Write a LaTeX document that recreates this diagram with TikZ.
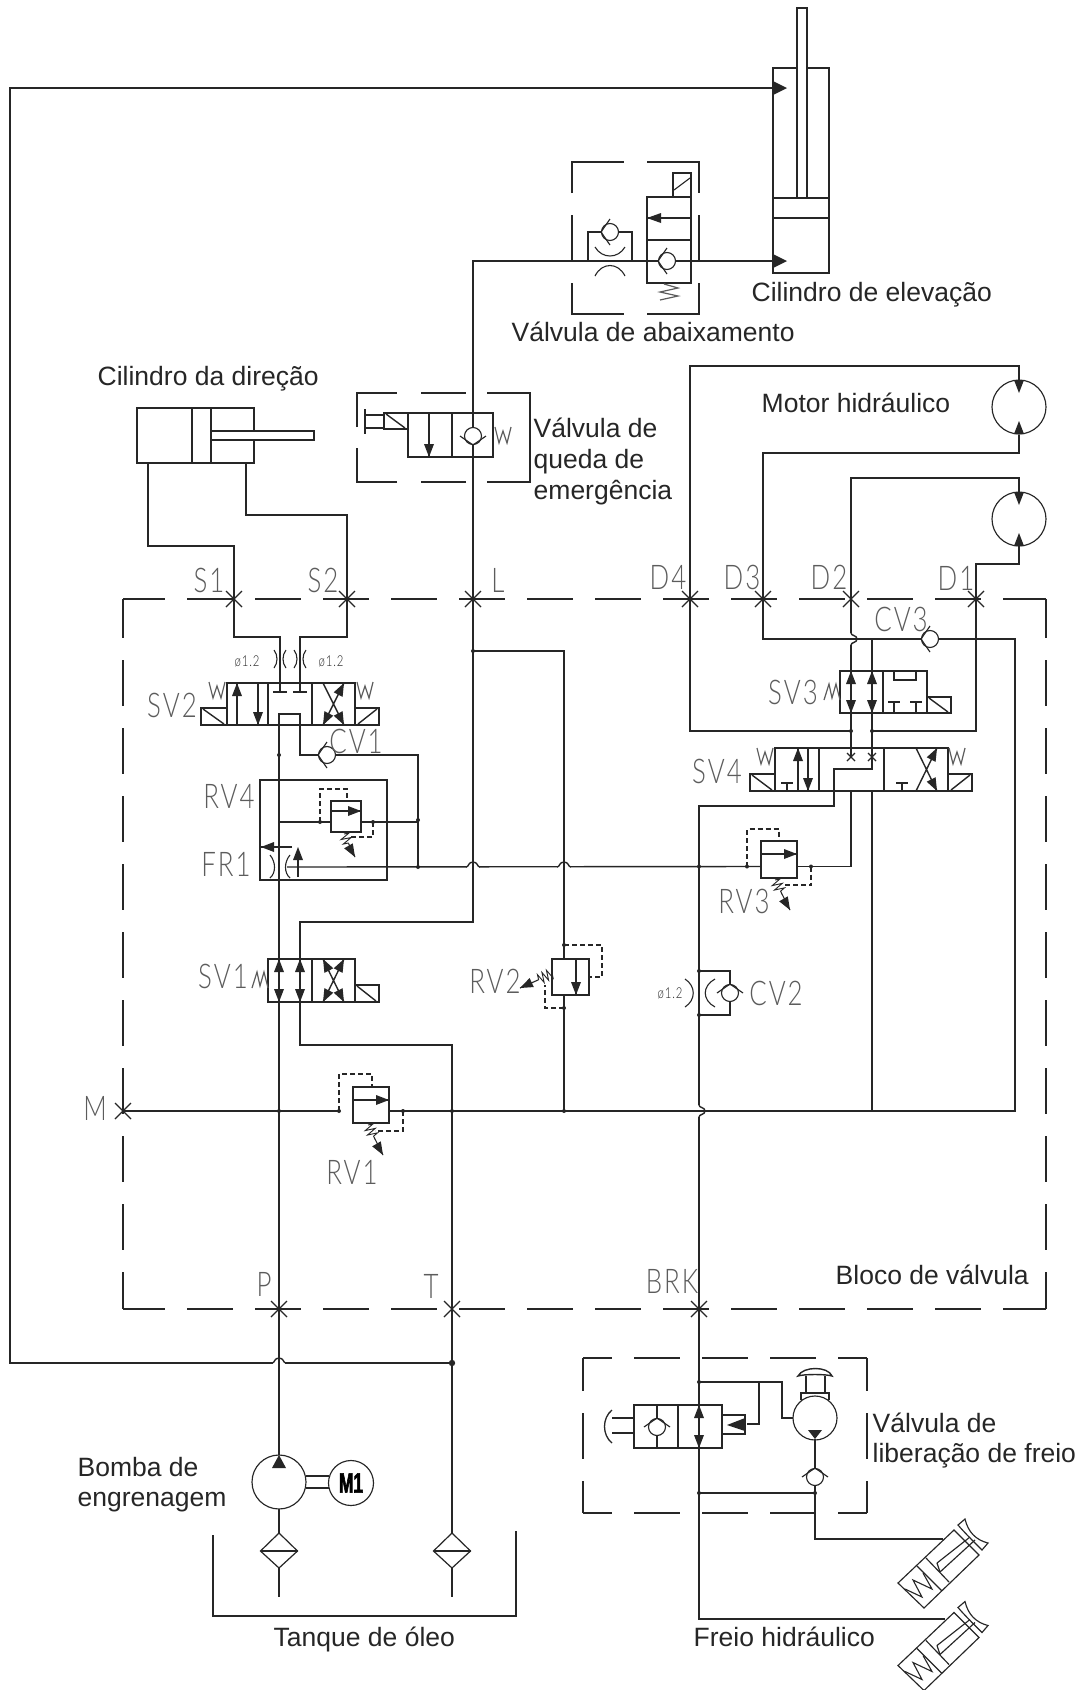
\documentclass[tikz,border=0pt]{standalone}
\usepackage{fontspec}
\usepackage{graphicx}
\usetikzlibrary{arrows.meta,decorations.pathmorphing,calc}
\setmainfont{Liberation Sans}
\newfontfamily\arialfont{Liberation Sans}
\newfontfamily\cadfont[FakeStretch=0.76,LetterSpace=6]{Lato Light}
\newfontfamily\mfont[FakeStretch=0.62,BoldFeatures={FakeBold=2}]{Liberation Sans}
\definecolor{ink}{HTML}{262626}
\definecolor{cadgray}{HTML}{5C5C5C}
\newcommand{\tr}[4]{\fill[ink] (#1,#2) -- ({#1-(#3)*13+(#4)*5},{#2-(#4)*13-(#3)*5}) -- ({#1-(#3)*13-(#4)*5},{#2-(#4)*13+(#3)*5}) -- cycle;}
\newcommand{\trr}[6]{\fill[ink] (#1,#2) -- ({#1-(#3)*#5+(#4)*#6},{#2-(#4)*#5-(#3)*#6}) -- ({#1-(#3)*#5-(#4)*#6},{#2-(#4)*#5+(#3)*#6}) -- cycle;}
\newcommand{\chk}[4]{\draw[fill=white,line width=1.15pt] (#1,#2) circle (8.5);
  \draw[line width=1.15pt] ({#1-(#4)*13},{#2+(#3)*13}) -- ({#1+(#3)*9},{#2+(#4)*9}) -- ({#1+(#4)*13},{#2-(#3)*13});}
\newcommand{\wsym}[2]{\draw[sp] (#1-8,#2-8) -- (#1-4,#2+8) -- (#1,#2-4) -- (#1+4,#2+8) -- (#1+8,#2-8);}
\newcommand{\msym}[2]{\draw[sp] (#1-8,#2+8) -- (#1-3,#2-8) -- (#1,#2+6) -- (#1+4,#2-8) -- (#1+8,#2+8);}
\newcommand{\cross}[1]{\draw[thinp] ($(#1)+(-8,-8)$) -- ($(#1)+(8,8)$); \draw[thinp] ($(#1)+(-8,8)$) -- ($(#1)+(8,-8)$);}
\newcommand{\dotp}[2]{\fill[ink] (#1,#2) circle (2);}
\newcommand{\hump}[2]{\draw[white,line width=3pt] (#1-6,#2) -- (#1+6,#2); \draw (#1,#2-5) -- (#1,#2+5);
  \draw (#1-7,#2) .. controls (#1-4,#2) and (#1-5,#2-5) .. (#1,#2-5) .. controls (#1+5,#2-5) and (#1+4,#2) .. (#1+7,#2);}
\newcommand{\vhump}[2]{\draw[white,line width=3pt] (#1,#2-6) -- (#1,#2+6); \draw (#1-2,#2) -- (#1+7,#2);
  \draw (#1,#2-6) .. controls (#1,#2-3) and (#1+6,#2-4) .. (#1+6,#2) .. controls (#1+6,#2+4) and (#1,#2+3) .. (#1,#2+6);}
\newcommand{\relief}[9]{% x0 y0 x1 y1 (rect), ay (inner), sx sy ex ey (spring)
  \draw[fill=white] (#1,#2) rectangle (#3,#4);
  \draw (#1,#5) -- (#3,#5); \tr{#3}{#5}{1}{0}
  \draw[springz] (#6,#7) -- ($(#6,#7)!0.42!(#8,#9)$);
  \draw[line width=1.1pt] ($(#6,#7)!0.42!(#8,#9)$) -- (#8,#9);}
\newcommand{\solL}[4]{\draw (#1,#2) rectangle (#3,#4); \draw ({#1+2},{#2+1}) -- ({#3-3},{#4-1});}
\newcommand{\solR}[4]{\draw (#1,#2) rectangle (#3,#4); \draw ({#1+3},{#4-1}) -- ({#3-2},{#2+1});}
\tikzset{
  every path/.append style={line width=1.4pt},
  sp/.style={draw=cadgray,line width=1.2pt},
  thinp/.style={draw=ink,line width=1.1pt},
  dsh/.style={draw=ink,line width=1.3pt},
  pil/.style={draw=ink,line width=1.2pt,dash pattern=on 5pt off 3pt},
  arc1/.style={draw=ink,line width=1.1pt},
  springz/.style={draw=ink,line width=0.9pt,decorate,decoration={zigzag,segment length=5pt,amplitude=5pt,post length=0.1pt}},
  txt/.style={anchor=base west,text=ink,inner sep=0pt,font=\arialfont\fontsize{26.5}{31}\selectfont},
  cad/.style={text=cadgray,inner sep=0pt,font=\cadfont\fontsize{34}{34}\selectfont},
  cads/.style={text=ink,inner sep=0pt,font=\cadfont\fontsize{15}{15}\selectfont}
}
\begin{document}
\begin{tikzpicture}[x=1pt,y=-1pt,draw=ink]
\useasboundingbox[fill=white] (0,0) rectangle (1080,1690);

% ports
\coordinate (S1) at (234,599); \coordinate (S2) at (347,599); \coordinate (L) at (473,599);
\coordinate (D4) at (690,599); \coordinate (D3) at (763,599); \coordinate (D2) at (851,599);
\coordinate (D1) at (976,599); \coordinate (M) at (123,1111); \coordinate (P) at (279,1309);
\coordinate (T) at (452,1309); \coordinate (BRK) at (699,1309);

% valve block border
\begin{scope}[dsh,dash pattern=on 46pt off 22pt]
  \draw[dash phase=4pt] (123,599) -- (1046,599);
  \draw[dash phase=4pt] (123,1309) -- (1046,1309);
  \draw[dash phase=7pt] (123,599) -- (123,1309);
  \draw[dash phase=7pt] (1046,599) -- (1046,1309);
\end{scope}

% lift cylinder
\draw (773,68) rectangle (829,273);
\draw[fill=white] (797,8) rectangle (807,198);
\draw (773,198) -- (829,198) (773,218) -- (829,218);
\draw (452,1363) -- (10,1363) -- (10,88) -- (773,88);
\trr{787}{88}{1}{0}{14}{7}
\trr{787}{261}{1}{0}{14}{7}

% pressure line to lift
\draw (452,1533) -- (T) -- (452,1045) -- (300,1045) -- (300,922) -- (473,922) -- (L) -- (473,261) -- (773,261);

% lowering valve
\begin{scope}[dsh]
  \draw (572,193) -- (572,162) -- (624,162) (647,162) -- (699,162) -- (699,193);
  \draw (572,215) -- (572,261) (699,215) -- (699,261);
  \draw (572,283) -- (572,314) -- (624,314) (647,314) -- (699,314) -- (699,283);
\end{scope}
\draw (588,261) -- (588,232) -- (632,232) -- (632,261);
\chk{610}{232}{-1}{0}
\draw[arc1] (595,247) .. controls (602,259) and (618,259) .. (625,247);
\draw[arc1] (595,276) .. controls (602,262) and (618,262) .. (625,276);
\draw (647,197) rectangle (691,283);
\draw (647,240) -- (691,240) (647,218) -- (691,218);
\trr{647}{218}{-1}{0}{14}{5}
\draw (673,197) -- (673,173) -- (691,173) -- (691,197);
\draw[thinp] (674,190) -- (690,178);
\chk{667}{261}{-1}{0}
\draw[sp] (664,284) -- (678,288) -- (660,292) -- (678,296) -- (660,300);

% emergency valve
\begin{scope}[dsh]
  \draw (357,427) -- (357,393) -- (397,393) (421,393) -- (466,393) (487,393) -- (530,393) -- (530,482) -- (487,482) (466,482) -- (421,482) (397,482) -- (357,482) -- (357,448);
\end{scope}
\draw (408,413) rectangle (493,457);
\draw (452,413) -- (452,457) (429,413) -- (429,457);
\tr{429}{457}{0}{1}
\solL{384}{413}{408}{429}
\draw (365,409) -- (365,434) (365,415) -- (384,415) (365,428) -- (384,428);
\chk{473}{436}{0}{1}
\wsym{503}{435}

% steering cylinder
\draw (137,408) rectangle (254,463);
\draw (192,408) -- (192,463) (211,408) -- (211,463);
\draw[fill=white] (211,431) rectangle (314,440);
\draw (148,463) -- (148,546) -- (234,546) -- (S1) -- (234,637) -- (280,637) -- (280,692);
\draw (246,463) -- (246,515) -- (347,515) -- (S2) -- (347,637) -- (300,637) -- (300,692);
\draw (273,692) -- (287,692) (293,692) -- (307,692);
\foreach \xx in {280,300}{
  \draw[arc1] (\xx-6,650) .. controls (\xx-2,655) and (\xx-2,663) .. (\xx-6,668);
  \draw[arc1] (\xx+6,650) .. controls (\xx+2,655) and (\xx+2,663) .. (\xx+6,668);
}
\node[cads] (o1) at (247,661) {ø1.2};
\node[cads] (o2) at (331,661) {ø1.2};

% SV2
\draw (227,683) rectangle (355,725);
\draw (268,683) -- (268,725) (312,683) -- (312,725);
\solL{201}{708}{227}{725} \solR{355}{708}{379}{725}
\draw (237,683) -- (237,725) (258,683) -- (258,725);
\tr{237}{683}{0}{-1} \tr{258}{725}{0}{1}
\draw (323,683) -- (344,725) (344,683) -- (323,725);
\trr{344}{683}{0.45}{-0.89}{13}{5} \trr{323}{725}{-0.45}{0.89}{13}{5} \trr{344}{725}{0.45}{0.89}{13}{5}
\wsym{217}{690} \wsym{365}{690}
\draw (279,1455) -- (279,714) -- (300,714) -- (300,755) -- (418,755) -- (418,867);
\chk{327}{755}{-1}{0}
\dotp{279}{755} \dotp{418}{820} \dotp{418}{867}

% RV4 / FR1
\draw (260,780) rectangle (387,880);
\draw (279,822) -- (331,822) (361,822) -- (418,822);
\relief{331}{801}{361}{832}{811}{344}{834}{355}{857}
\tr{355}{857}{0.5}{0.86}
\draw[pil] (320,822) -- (320,789) -- (347,789) -- (347,801);
\draw[pil] (373,822) -- (373,837) -- (350,837);
\dotp{320}{822} \dotp{373}{822}
\draw (292,847) -- (261,847); \tr{261}{847}{-1}{0}
\draw (298,877) -- (298,860); \tr{298}{847}{0}{-1}
\draw[arc1] (270,855) .. controls (276,862) and (276,873) .. (270,878);
\draw[arc1] (290,855) .. controls (284,862) and (284,873) .. (290,878);
\draw (287,867) -- (761,866.5);

% RV3
\relief{761}{841}{797}{878}{854}{775}{880}{790}{910}
\tr{790}{910}{0.5}{0.86}
\draw[pil] (747,866.5) -- (747,829) -- (779,829) -- (779,841);
\draw[pil] (811,866.5) -- (811,885) -- (782,885);
\dotp{747}{866.5} \dotp{811}{866.5} \dotp{699}{866.5}
\draw (797,866.5) -- (851,866.5) -- (851,791);

% SV1
\draw (268,959) rectangle (355,1002);
\draw (312,959) -- (312,1002);
\solL{355}{985}{379}{1002}
\foreach \xx in {279,300}{ \tr{\xx}{959}{0}{-1} \tr{\xx}{1002}{0}{1} }
\draw (323,959) -- (344,1002) (344,959) -- (323,1002);
\trr{344}{959}{0.45}{-0.89}{13}{5} \trr{323}{959}{-0.45}{-0.89}{13}{5}
\trr{323}{1002}{-0.45}{0.89}{13}{5} \trr{344}{1002}{0.45}{0.89}{13}{5}
\msym{260}{980}

% return line
\draw (M) -- (339,1111) (389,1111) -- (1015,1111) -- (1015,639) -- (763,639) -- (D3) -- (763,453) -- (1019,453) -- (1019,435);
\dotp{279}{1111} \dotp{452}{1111} \dotp{564}{1111}

% RV1
\relief{353}{1087}{389}{1123}{1100}{368}{1125}{383}{1155}
\tr{383}{1155}{0.5}{0.86}
\draw[pil] (339,1111) -- (339,1074) -- (372,1074) -- (372,1087);
\draw[pil] (403,1111) -- (403,1131) -- (375,1131);
\dotp{339}{1111} \dotp{403}{1111}

% RV2 branch
\draw (473,651) -- (564,651) -- (564,1111);
\dotp{473}{651}
\draw[fill=white] (552,959) rectangle (589,995);
\draw (576,959) -- (576,995); \tr{576}{995}{0}{1}
\draw[pil] (564,945) -- (602,945) -- (602,977) -- (589,977);
\draw[pil] (564,1008) -- (545,1008) -- (545,985);
\dotp{564}{945} \dotp{564}{1008}
\draw[springz] (552,973) -- (538,980);
\draw[line width=1.1pt] (538,980) -- (520,988); \tr{520}{988}{-0.9}{0.42}

% motors
\draw[line width=1.15pt] (1019,407) circle (27);
\draw[line width=1.15pt] (1019,519) circle (27);
\tr{1019}{393}{0}{1} \tr{1019}{421}{0}{-1}
\tr{1019}{505}{0}{1} \tr{1019}{533}{0}{-1}
\draw (1019,380) -- (1019,366) -- (690,366) -- (D4) -- (690,731) -- (851,731);
\draw (1019,492) -- (1019,478) -- (851,478) -- (D2) -- (851,757);
\draw (1019,546) -- (1019,564) -- (976,564) -- (D1) -- (976,731) -- (872,731);
\draw (872,639) -- (872,769) -- (834,769) -- (834,806) -- (699,806) -- (BRK) -- (699,1619) -- (945,1619);
\draw (872,791) -- (872,1111);
\dotp{851}{731} \dotp{872}{731}
\vhump{851}{639}
\chk{930}{639}{-1}{0}

% SV3
\draw (840,671) rectangle (927,713);
\draw (883,671) -- (883,713);
\solL{927}{697}{951}{713}
\foreach \xx in {851,872}{ \tr{\xx}{671}{0}{-1} \tr{\xx}{713}{0}{1} }
\draw (894,671) -- (894,680) -- (916,680) -- (916,671);
\draw (894,713) -- (894,702) (888,702) -- (900,702) (916,713) -- (916,702) (910,702) -- (922,702);
\msym{832}{692}

% SV4
\draw (775,748) rectangle (948,791);
\draw (819,748) -- (819,791) (884,748) -- (884,791);
\solL{750}{774}{775}{791} \solR{948}{774}{972}{791}
\draw (798,748) -- (798,791) (808,748) -- (808,791);
\tr{798}{748}{0}{-1} \tr{808}{791}{0}{1}
\draw (787,791) -- (787,783) (781,783) -- (793,783);
\draw (902,791) -- (902,783) (896,783) -- (908,783);
\draw (916,748) -- (937,791) (937,748) -- (916,791);
\trr{937}{748}{0.45}{-0.89}{13}{5} \trr{937}{791}{0.45}{0.89}{13}{5}
\foreach \xx in {851,872}{ \draw[thinp] (\xx-4,753) -- (\xx+4,761) (\xx-4,761) -- (\xx+4,753); }
\wsym{765}{756} \wsym{957}{756}

% CV2
\draw (699,971) -- (730,971) -- (730,1015) -- (699,1015);
\chk{730}{993}{0}{-1}
\dotp{699}{971} \dotp{699}{1015}
\draw[arc1] (685,979) .. controls (696,986) and (696,1000) .. (685,1007);
\draw[arc1] (715,979) .. controls (702,986) and (702,1000) .. (715,1007);
\node[cads] (o3) at (670,993) {ø1.2};

% humps
\hump{473}{867}
\hump{564}{867}
\hump{279}{1363}
\vhump{699}{1111}
\fill[ink] (452,1363) circle (3.2);

% pump, motor, filters, tank
\draw[line width=1.15pt] (279,1482) circle (27);
\trr{279}{1455}{0}{-1}{13}{7}
\draw[line width=1.15pt] (351,1483) circle (22.5);
\draw (306,1476) -- (329,1476) (306,1488) -- (329,1488);
\node[inner sep=0pt,text=black] (m1) at (351,1483) {\mfont\bfseries\fontsize{28}{28}\selectfont M1};
\draw (279,1509) -- (279,1533);
\foreach \xx in {279,452}{
  \draw[line width=1.2pt] (\xx,1533) -- (\xx+18.5,1551) -- (\xx,1568) -- (\xx-18.5,1551) -- cycle;
  \draw[line width=1.2pt] (\xx-18.5,1551) -- (\xx+18.5,1551) (\xx,1568) -- (\xx,1597);
}
\draw (213,1535) -- (213,1616) -- (516,1616) -- (516,1531);

% brake release
\begin{scope}[dsh]
  \draw[dash pattern=on 46pt off 22pt,dash phase=17pt] (583,1358) -- (867,1358);
  \draw[dash pattern=on 46pt off 22pt,dash phase=17pt] (583,1513) -- (867,1513);
  \draw[dash pattern=on 46pt off 22pt,dash phase=13pt] (583,1358) -- (583,1513);
  \draw[dash pattern=on 46pt off 22pt,dash phase=13pt] (867,1358) -- (867,1513);
\end{scope}
\draw (634,1405) rectangle (722,1448);
\draw (678,1405) -- (678,1448);
\tr{699}{1405}{0}{-1} \tr{699}{1448}{0}{1}
\draw (657,1405) -- (657,1448);
\chk{657}{1427}{0}{-1}
\draw (612,1418) -- (634,1418) (612,1433) -- (634,1433);
\draw[line width=1.3pt] (612,1410) .. controls (602,1418) and (602,1435) .. (612,1443);
\draw (722,1415) rectangle (745,1434);
\fill[ink] (727,1425) -- (745,1418) -- (745,1431) -- cycle;
\draw (699,1382) -- (782,1382) -- (782,1418) -- (793,1418);
\draw (759,1382) -- (759,1424) -- (752,1424);
\draw[pil] (752,1424) -- (745,1424);
\dotp{699}{1382}
\draw[line width=1.15pt] (815,1418) circle (22);
\fill[ink] (815,1439) -- (808,1430) -- (822,1430) -- cycle;
\draw (815,1439) -- (815,1539) -- (943,1539);
\chk{815}{1477}{0}{-1}
\draw (699,1493) -- (815,1493);
\dotp{699}{1493} \dotp{815}{1493}
\draw (806,1376) -- (806,1393) (825,1376) -- (825,1393);
\draw (801,1400) -- (801,1393) -- (829,1393) -- (829,1400);
\draw (798,1376) .. controls (803,1366) and (828,1366) .. (832,1376) .. controls (826,1374) and (804,1374) .. (798,1376) -- cycle;

% brake cylinders
\foreach \dy in {0,82.5}{
\begin{scope}[yshift=-\dy pt,line width=1.15pt]
  \draw[line width=1.15pt] (898,1583) -- (954,1530) -- (979,1555) -- (924,1608) -- cycle;
  \draw[line width=1.15pt] (917,1566) -- (942,1591) (926,1558) -- (949,1582);
  \draw[line width=1.15pt] (937,1563) -- (970,1537) (940,1572) -- (975,1540) (937,1563) -- (940,1572);
  \draw[line width=1.15pt] (965,1519) .. controls (968,1532) and (976,1540) .. (988,1543) -- (982,1550) .. controls (972,1540) and (964,1532) .. (958,1525) -- cycle;
  \draw[draw=ink,line width=1.1pt] (905,1589) -- (922,1597) -- (913,1580) -- (932,1589) -- (923,1573);
\end{scope}
}

% CAD labels
\node[cad] (lS1) at (209,580) {S1};
\node[cad] (lS2) at (323,580) {S2};
\node[cad] (lL) at (498,580) {L};
\node[cad] (lD4) at (668,577) {D4};
\node[cad] (lD3) at (742,577) {D3};
\node[cad] (lD2) at (829,577) {D2};
\node[cad] (lD1) at (956,578) {D1};
\node[cad] (lCV3) at (901,619) {CV3};
\node[cad] (lSV3) at (793,692) {SV3};
\node[cad] (lSV4) at (717,771) {SV4};
\node[cad] (lSV2) at (172,705) {SV2};
\node[cad] (lCV1) at (356,741) {CV1};
\node[cad] (lRV4) at (229,796) {RV4};
\node[cad] (lFR1) at (226,864) {FR1};
\node[cad] (lSV1) at (223,976) {SV1};
\node[cad] (lRV2) at (495,981) {RV2};
\node[cad] (lRV1) at (352,1172) {RV1};
\node[cad] (lRV3) at (744,901) {RV3};
\node[cad] (lCV2) at (776,993) {CV2};
\node[cad] (lM) at (95,1108) {M};
\node[cad] (lP) at (264,1284) {P};
\node[cad] (lT) at (431,1286) {T};
\node[cad] (lBRK) at (672,1281) {BRK};

\foreach \c in {S1,S2,L,D4,D3,D2,D1,M,P,T,BRK}{\cross{\c}}

% text labels
\node[txt] (t1) at (751,301) {Cilindro de elevação};
\node[txt] (t2) at (511,341) {Válvula de abaixamento};
\node[txt] (t3) at (97,385) {Cilindro da direção};
\node[txt] (t4a) at (533,437) {Válvula de};
\node[txt] (t4b) at (533,468) {queda de};
\node[txt] (t4c) at (533,499) {emergência};
\node[txt] (t5) at (761,412) {Motor hidráulico};
\node[txt] (t6) at (835,1284) {Bloco de válvula};
\node[txt] (t7a) at (872,1432) {Válvula de};
\node[txt] (t7b) at (872,1462) {liberação de freio};
\node[txt] (t8) at (693,1646) {Freio hidráulico};
\node[txt] (t9a) at (77,1476) {Bomba de};
\node[txt] (t9b) at (77,1506) {engrenagem};
\node[txt] (t10) at (273,1646) {Tanque de óleo};
\end{tikzpicture}
\end{document}
